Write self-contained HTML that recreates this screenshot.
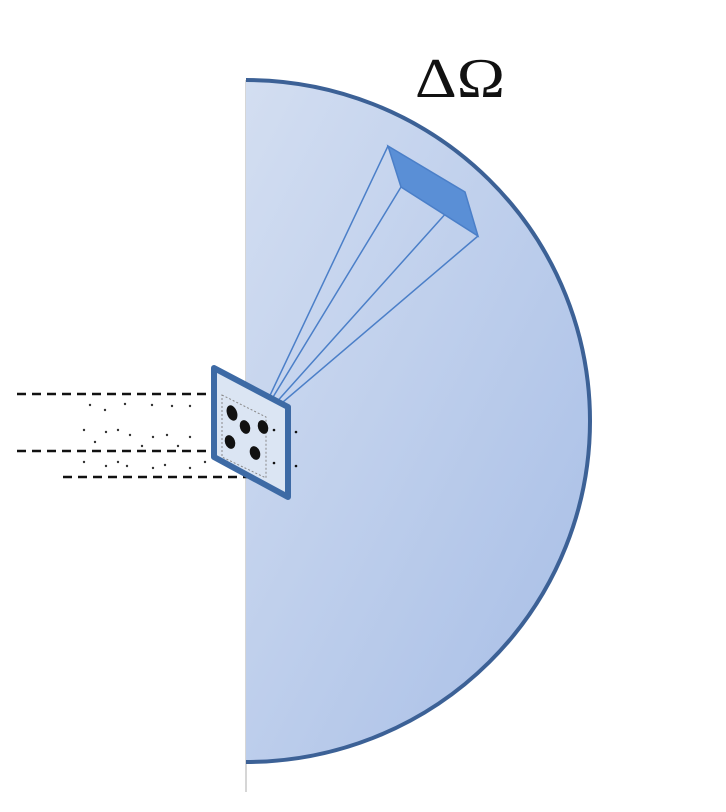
<!DOCTYPE html>
<html><head><meta charset="utf-8"><style>html,body{margin:0;padding:0;background:#fff}svg{display:block}</style></head>
<body>
<svg width="726" height="812" viewBox="0 0 726 812">
<defs>
<linearGradient id="g" x1="0" y1="0" x2="1" y2="1">
<stop offset="0" stop-color="#d3def1"/><stop offset="1" stop-color="#a6bde6"/>
</linearGradient>
</defs>
<line x1="246" y1="80" x2="246" y2="792" stroke="#c8c8c8" stroke-width="1.5"/>
<path d="M246,80 A344,341 0 0 1 246,762 Z" fill="url(#g)"/>
<path d="M246,80 A344,341 0 0 1 246,762" fill="none" stroke="#3c6196" stroke-width="4"/>
<text x="415" y="97" font-family="Liberation Serif, serif" font-size="56" textLength="90" lengthAdjust="spacingAndGlyphs" fill="#111">ΔΩ</text>
<g stroke="#4b7fc8" stroke-width="1.5">
<line x1="256" y1="425" x2="388" y2="146"/><line x1="256" y1="425" x2="401" y2="187"/>
<line x1="256" y1="425" x2="465" y2="192"/><line x1="256" y1="425" x2="478" y2="236"/>
</g>
<polygon points="388,146 465,192 478,236 401,187" fill="#5a8fd6" stroke="#4b7fc8" stroke-width="1.5"/>
<g stroke="#111" stroke-width="2.5" stroke-dasharray="9,6">
<line x1="17" y1="394" x2="240" y2="394"/><line x1="17" y1="451" x2="240" y2="451"/><line x1="63" y1="477" x2="262" y2="477"/>
</g>
<g fill="#333">
<circle cx="90" cy="405" r="1.2"/><circle cx="105" cy="410" r="1.2"/><circle cx="125" cy="404" r="1.2"/><circle cx="152" cy="405" r="1.2"/><circle cx="172" cy="406" r="1.2"/><circle cx="190" cy="406" r="1.2"/>
<circle cx="84" cy="430" r="1.2"/><circle cx="106" cy="432" r="1.2"/><circle cx="118" cy="430" r="1.2"/><circle cx="130" cy="435" r="1.2"/><circle cx="153" cy="437" r="1.2"/><circle cx="167" cy="435" r="1.2"/><circle cx="190" cy="437" r="1.2"/><circle cx="95" cy="442" r="1.2"/><circle cx="142" cy="446" r="1.2"/><circle cx="178" cy="446" r="1.2"/>
<circle cx="84" cy="462" r="1.2"/><circle cx="106" cy="466" r="1.2"/><circle cx="118" cy="462" r="1.2"/><circle cx="127" cy="466" r="1.2"/><circle cx="153" cy="468" r="1.2"/><circle cx="165" cy="465" r="1.2"/><circle cx="190" cy="468" r="1.2"/><circle cx="205" cy="462" r="1.2"/>
</g>
<polygon points="214,368 288,407 288,497 214,457" fill="#dbe5f3" stroke="#3d6aa5" stroke-width="6" stroke-linejoin="round"/>
<polygon points="222,395 266,417 266,478 222,457" fill="none" stroke="#888" stroke-width="1" stroke-dasharray="2,2"/>
<g fill="#111">
<ellipse cx="232" cy="413" rx="5" ry="8" transform="rotate(-20 232 413)"/>
<ellipse cx="245" cy="427" rx="5" ry="7" transform="rotate(-20 245 427)"/>
<ellipse cx="263" cy="427" rx="5" ry="7" transform="rotate(-20 263 427)"/>
<ellipse cx="230" cy="442" rx="5" ry="7" transform="rotate(-20 230 442)"/>
<ellipse cx="255" cy="453" rx="5" ry="7" transform="rotate(-20 255 453)"/>
<circle cx="296" cy="432" r="1.3"/><circle cx="296" cy="466" r="1.3"/><circle cx="274" cy="430" r="1.3"/><circle cx="274" cy="463" r="1.3"/>
</g>
</svg>
</body></html>
